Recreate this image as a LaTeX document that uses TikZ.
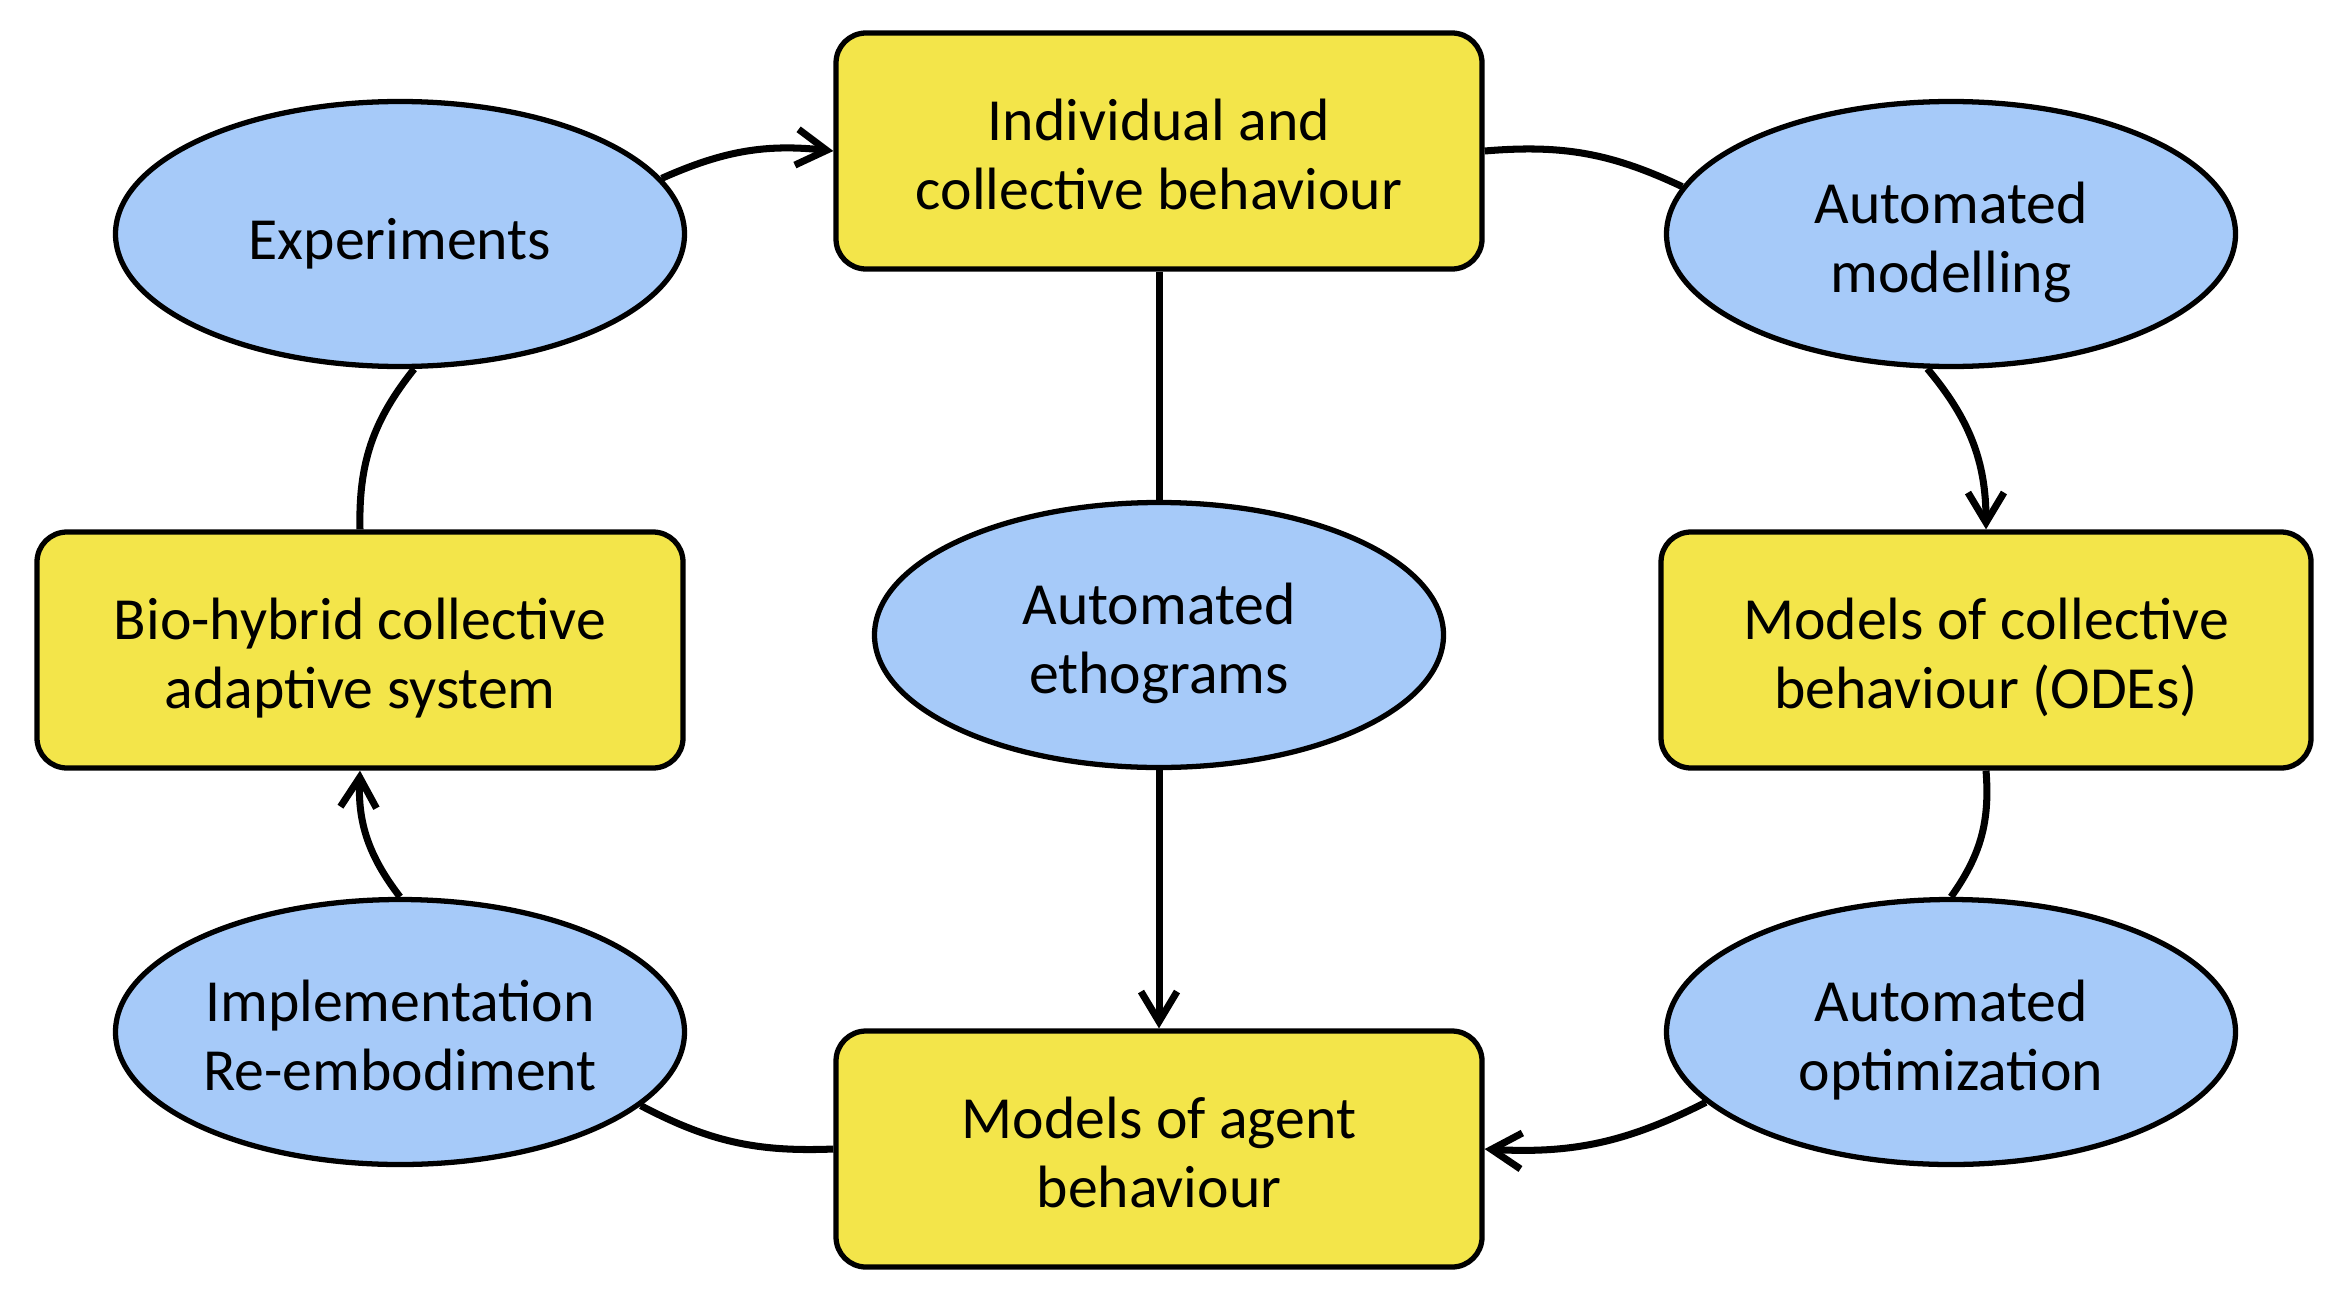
\documentclass[tikz,border=0pt]{standalone}
\usepackage{fontspec}
\setmainfont{Carlito}
\usepackage{tikz}
\usetikzlibrary{arrows.meta,shapes.geometric}

\definecolor{boxyellow}{RGB}{243,229,74}
\definecolor{ovalblue}{RGB}{166,202,249}

\begin{document}
\begin{tikzpicture}[->,>={Straight Barb[length=3mm,width=3.6mm]},line width=2pt,node distance=4cm,
  box/.style={rectangle,rounded corners=0.3cm,draw,line width=1.5pt,fill=boxyellow,minimum width=6.46cm,minimum height=2.36cm,align=center,font=\fontsize{17}{19.6}\selectfont,text height=36.6pt,text depth=3.5pt},
  oval/.style={ellipse,draw,line width=1.5pt,fill=ovalblue,minimum width=5.69cm,minimum height=2.65cm,inner sep=0pt,align=center,font=\fontsize{17}{19.6}\selectfont,text height=36.6pt,text depth=3.5pt}]
  \useasboundingbox (0,0) rectangle (23.42,12.92);

  \node [oval] (etho) at (11.59,6.57) {Automated\\ethograms};
  \node [box,above of=etho,yshift=0.84cm] (indiv) {Individual and\\collective behaviour};
  \node [box,below of=etho,yshift=-1.14cm] (agent) {Models of agent\\behaviour};
  \node [box,left of=etho,xshift=-3.99cm,yshift=-0.15cm] (biohyb) {Bio-hybrid collective\\adaptive system};
  \node [box,right of=etho,xshift=4.27cm,yshift=-0.15cm,minimum width=6.5cm] (odes) {Models of collective\\behaviour (ODEs)};
  \node [oval,left of=indiv,xshift=-3.59cm,yshift=-0.83cm,text height=18pt] (exper) {Experiments};
  \node [oval,right of=indiv,xshift=3.92cm,yshift=-0.83cm] (amodel) {Automated\\modelling};
  \node [oval,left of=agent,xshift=-3.59cm,yshift=1.17cm] (impl) {Implementation\\Re-embodiment};
  \node [oval,right of=agent,xshift=3.92cm,yshift=1.17cm] (aopt) {Automated\\optimization};

  \path[->] (exper.12) edge[bend left=15] (indiv.west);
  \path[->] (amodel.260) edge[bend left=20] (odes.north);
  \path[->] (aopt.196) edge[bend left=15] (agent.east);
  \path[->] (impl.north) edge[bend left=20] (biohyb.south);
  \path[->] (etho) edge (agent);

  \path[-] (indiv.east) edge[bend left=15] (amodel.170);
  \path[-] (odes.south) edge[bend left=20] (aopt.north);
  \path[-] (agent.west) edge[bend left=15] (impl.343);
  \path[-] (biohyb.north) edge[bend left=20] (exper.276);
  \path[-] (indiv) edge (etho);
\end{tikzpicture}
\end{document}
